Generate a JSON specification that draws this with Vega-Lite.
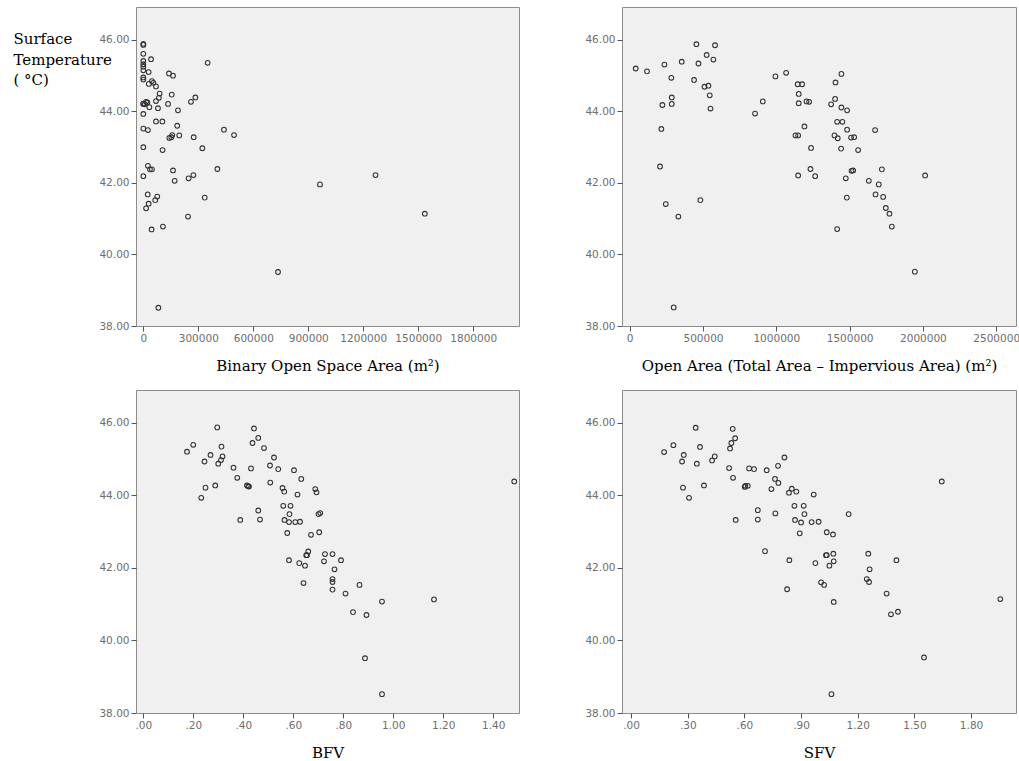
{
  "$schema": "https://vega.github.io/schema/vega-lite/v6.json",
  "padding": {"left": 12, "top": 6, "right": 2, "bottom": 2},
  "background": "white",
  "config": {
    "view": {"stroke": "#8c8c8c", "fill": "#f0f0f0", "strokeWidth": 1},
    "axis": {
      "grid": false, "domain": false, "tickColor": "#555555", "tickSize": 5,
      "labelFont": "DejaVu Sans", "labelFontSize": 10.5, "labelColor": "#6e6e6e",
      "labelFlush": false, "labelOverlap": false,
      "titleFont": "DejaVu Serif", "titleFontSize": 15, "titleFontWeight": "normal", "titleColor": "#000000"
    },
    "axisX": {"labelPadding": 2, "titleY": 44, "titleBaseline": "alphabetic"},
    "axisY": {"labelPadding": 2}
  },
  "datasets": {
    "p1": [
      {"x":0,"t":45.89},{"x":0,"t":45.86},{"x":0,"t":45.61},{"x":0,"t":45.41},{"x":0,"t":45.32},{"x":0,"t":45.25},{"x":0,"t":45.15},{"x":0,"t":44.95},{"x":0,"t":44.89},{"x":0,"t":44.22},{"x":0,"t":44.21},{"x":0,"t":43.93},{"x":0,"t":43.52},{"x":0,"t":43.0},{"x":0,"t":42.19},
      {"x":42000,"t":45.46},{"x":29000,"t":45.10},{"x":47000,"t":44.85},{"x":55000,"t":44.80},{"x":69000,"t":44.70},{"x":30000,"t":44.77},{"x":89000,"t":44.50},{"x":85000,"t":44.38},{"x":69000,"t":44.29},
      {"x":140000,"t":45.06},{"x":162000,"t":45.00},{"x":351000,"t":45.36},{"x":155000,"t":44.47},{"x":284000,"t":44.39},{"x":260000,"t":44.27},{"x":135000,"t":44.21},
      {"x":8000,"t":44.20},{"x":15000,"t":44.27},{"x":22000,"t":44.25},{"x":33000,"t":44.12},{"x":80000,"t":44.09},{"x":189000,"t":44.03},
      {"x":69000,"t":43.72},{"x":104000,"t":43.72},{"x":185000,"t":43.60},{"x":440000,"t":43.49},{"x":495000,"t":43.34},{"x":25000,"t":43.48},
      {"x":142000,"t":43.26},{"x":153000,"t":43.28},{"x":158000,"t":43.34},{"x":196000,"t":43.33},{"x":275000,"t":43.28},{"x":322000,"t":42.97},{"x":105000,"t":42.92},
      {"x":25000,"t":42.48},{"x":36000,"t":42.38},{"x":47000,"t":42.38},{"x":162000,"t":42.35},{"x":404000,"t":42.39},{"x":171000,"t":42.06},{"x":247000,"t":42.13},{"x":273000,"t":42.22},
      {"x":24000,"t":41.68},{"x":76000,"t":41.62},{"x":65000,"t":41.52},{"x":335000,"t":41.59},{"x":29000,"t":41.42},{"x":15000,"t":41.29},{"x":244000,"t":41.06},
      {"x":45000,"t":40.70},{"x":107000,"t":40.78},{"x":82000,"t":38.51},{"x":964000,"t":41.96},{"x":1267000,"t":42.22},{"x":1536000,"t":41.14},{"x":735000,"t":39.51}
    ],
    "p2": [
      {"x":41000,"t":45.20},{"x":118000,"t":45.12},{"x":237000,"t":45.31},{"x":355000,"t":45.39},{"x":284000,"t":44.94},{"x":287000,"t":44.39},{"x":287000,"t":44.21},{"x":223000,"t":44.18},{"x":216000,"t":43.51},{"x":207000,"t":42.46},{"x":246000,"t":41.41},{"x":332000,"t":41.06},{"x":300000,"t":38.52},
      {"x":455000,"t":45.88},{"x":469000,"t":45.34},{"x":439000,"t":44.88},{"x":525000,"t":45.58},{"x":571000,"t":45.45},{"x":582000,"t":45.85},{"x":510000,"t":44.69},{"x":537000,"t":44.72},{"x":546000,"t":44.45},{"x":551000,"t":44.08},{"x":482000,"t":41.52},
      {"x":855000,"t":43.94},{"x":908000,"t":44.28},{"x":994000,"t":44.98},{"x":1067000,"t":45.08},{"x":1146000,"t":44.76},{"x":1176000,"t":44.76},{"x":1153000,"t":44.49},{"x":1153000,"t":44.23},{"x":1206000,"t":44.28},{"x":1224000,"t":44.27},
      {"x":1192000,"t":43.58},{"x":1131000,"t":43.33},{"x":1149000,"t":43.33},{"x":1237000,"t":42.98},{"x":1233000,"t":42.39},{"x":1265000,"t":42.19},{"x":1149000,"t":42.21},
      {"x":1404000,"t":44.81},{"x":1444000,"t":45.05},{"x":1401000,"t":44.35},{"x":1374000,"t":44.20},{"x":1444000,"t":44.11},{"x":1483000,"t":44.03},{"x":1415000,"t":43.71},{"x":1451000,"t":43.71},{"x":1483000,"t":43.49},
      {"x":1397000,"t":43.33},{"x":1419000,"t":43.25},{"x":1510000,"t":43.27},{"x":1531000,"t":43.28},{"x":1442000,"t":42.96},{"x":1558000,"t":42.92},{"x":1513000,"t":42.34},{"x":1524000,"t":42.35},{"x":1474000,"t":42.13},{"x":1481000,"t":41.59},{"x":1415000,"t":40.71},
      {"x":1631000,"t":42.06},{"x":1674000,"t":43.48},{"x":1720000,"t":42.38},{"x":1699000,"t":41.96},{"x":1677000,"t":41.68},{"x":1729000,"t":41.61},{"x":1747000,"t":41.30},{"x":1772000,"t":41.14},{"x":1788000,"t":40.78},{"x":1945000,"t":39.52},{"x":2015000,"t":42.21}
    ],
    "p3": [
      {"x":0.175,"t":45.20},{"x":0.200,"t":45.39},{"x":0.269,"t":45.11},{"x":0.245,"t":44.93},{"x":0.296,"t":45.87},{"x":0.313,"t":45.34},{"x":0.317,"t":45.07},{"x":0.311,"t":44.97},{"x":0.300,"t":44.87},{"x":0.249,"t":44.21},{"x":0.288,"t":44.27},{"x":0.232,"t":43.93},
      {"x":0.361,"t":44.76},{"x":0.376,"t":44.48},{"x":0.388,"t":43.32},{"x":0.415,"t":44.27},{"x":0.420,"t":44.25},{"x":0.423,"t":44.24},{"x":0.431,"t":44.74},{"x":0.437,"t":45.44},{"x":0.443,"t":45.84},{"x":0.460,"t":45.58},{"x":0.483,"t":45.30},{"x":0.460,"t":43.58},{"x":0.467,"t":43.33},
      {"x":0.507,"t":44.82},{"x":0.508,"t":44.35},{"x":0.523,"t":45.04},{"x":0.540,"t":44.72},{"x":0.557,"t":44.20},{"x":0.564,"t":44.10},{"x":0.560,"t":43.71},{"x":0.589,"t":43.71},{"x":0.585,"t":43.48},{"x":0.565,"t":43.32},{"x":0.583,"t":43.26},{"x":0.608,"t":43.26},{"x":0.627,"t":43.27},{"x":0.576,"t":42.96},
      {"x":0.603,"t":44.69},{"x":0.632,"t":44.45},{"x":0.617,"t":44.02},{"x":0.688,"t":44.17},{"x":0.693,"t":44.08},{"x":0.701,"t":43.48},{"x":0.708,"t":43.51},{"x":0.704,"t":42.98},{"x":0.671,"t":42.91},
      {"x":0.583,"t":42.21},{"x":0.624,"t":42.13},{"x":0.647,"t":42.06},{"x":0.652,"t":42.35},{"x":0.655,"t":42.35},{"x":0.660,"t":42.45},{"x":0.641,"t":41.58},{"x":0.723,"t":42.18},{"x":0.727,"t":42.38},{"x":0.757,"t":42.38},{"x":0.765,"t":41.96},{"x":0.791,"t":42.21},
      {"x":0.757,"t":41.69},{"x":0.757,"t":41.61},{"x":0.757,"t":41.40},{"x":0.809,"t":41.29},{"x":0.865,"t":41.53},{"x":0.839,"t":40.78},{"x":0.893,"t":40.70},{"x":0.955,"t":41.07},{"x":0.887,"t":39.51},{"x":0.955,"t":38.52},{"x":1.163,"t":41.13},{"x":1.484,"t":44.38}
    ],
    "p4": [
      {"x":0.175,"t":45.19},{"x":0.224,"t":45.38},{"x":0.279,"t":45.11},{"x":0.270,"t":44.93},{"x":0.342,"t":45.86},{"x":0.365,"t":45.33},{"x":0.348,"t":44.87},{"x":0.275,"t":44.21},{"x":0.307,"t":43.93},{"x":0.386,"t":44.27},{"x":0.429,"t":44.96},{"x":0.443,"t":45.07},
      {"x":0.538,"t":45.83},{"x":0.551,"t":45.57},{"x":0.531,"t":45.44},{"x":0.524,"t":45.29},{"x":0.519,"t":44.75},{"x":0.540,"t":44.48},{"x":0.554,"t":43.32},{"x":0.605,"t":44.26},{"x":0.618,"t":44.26},{"x":0.602,"t":44.23},{"x":0.625,"t":44.74},{"x":0.651,"t":44.72},
      {"x":0.671,"t":43.59},{"x":0.671,"t":43.33},{"x":0.718,"t":44.69},{"x":0.762,"t":44.45},{"x":0.743,"t":44.17},{"x":0.780,"t":44.34},{"x":0.778,"t":44.81},{"x":0.812,"t":45.04},{"x":0.764,"t":43.50},{"x":0.709,"t":42.46},{"x":0.838,"t":42.21},{"x":0.826,"t":41.41},
      {"x":0.851,"t":44.18},{"x":0.836,"t":44.07},{"x":0.875,"t":44.10},{"x":0.865,"t":43.71},{"x":0.914,"t":43.71},{"x":0.918,"t":43.48},{"x":0.868,"t":43.32},{"x":0.900,"t":43.25},{"x":0.893,"t":42.95},{"x":0.967,"t":44.02},{"x":0.956,"t":43.26},{"x":0.993,"t":43.27},{"x":1.152,"t":43.48},
      {"x":1.036,"t":42.98},{"x":1.069,"t":42.92},{"x":1.032,"t":42.35},{"x":1.036,"t":42.35},{"x":1.071,"t":42.39},{"x":1.073,"t":42.18},{"x":1.050,"t":42.06},{"x":0.976,"t":42.13},{"x":1.006,"t":41.60},{"x":1.022,"t":41.53},{"x":1.073,"t":41.06},{"x":1.061,"t":38.52},
      {"x":1.256,"t":42.39},{"x":1.263,"t":41.96},{"x":1.248,"t":41.69},{"x":1.260,"t":41.61},{"x":1.405,"t":42.21},{"x":1.353,"t":41.29},{"x":1.376,"t":40.72},{"x":1.413,"t":40.79},{"x":1.551,"t":39.53},{"x":1.645,"t":44.38},{"x":1.955,"t":41.14}
    ]
  },
  "columns": 2,
  "bounds": "flush",
  "align": "each",
  "spacing": {"row": 64, "column": 103},
  "concat": [
    {
      "data": {"name": "p1"},
      "width": 383, "height": 319,
      "mark": {"type": "point", "shape": "circle", "filled": false, "size": 22, "strokeWidth": 1.1, "opacity": 1, "color": "#333333"},
      "encoding": {
        "x": {"field": "x", "type": "quantitative", "scale": {"domain": [-40000, 2050000], "nice": false, "zero": false},
              "axis": {"values": [0, 300000, 600000, 900000, 1200000, 1500000, 1800000], "format": "d", "title": "Binary Open Space Area (m²)"}},
        "y": {"field": "t", "type": "quantitative", "scale": {"domain": [38, 46.92], "nice": false, "zero": false},
              "axis": {"values": [38, 40, 42, 44, 46], "format": ".2f", "title": ["Surface", "Temperature", "( °C)"],
                       "titleAngle": 0, "titleAlign": "left", "titleBaseline": "alphabetic", "titleX": -123, "titleY": 36.5, "titleLineHeight": 20.5}}
      }
    },
    {
      "data": {"name": "p2"},
      "width": 394, "height": 319,
      "mark": {"type": "point", "shape": "circle", "filled": false, "size": 22, "strokeWidth": 1.1, "opacity": 1, "color": "#333333"},
      "encoding": {
        "x": {"field": "x", "type": "quantitative", "scale": {"domain": [-52500, 2635000], "nice": false, "zero": false},
              "axis": {"values": [0, 500000, 1000000, 1500000, 2000000, 2500000], "format": "d", "title": "Open Area (Total Area – Impervious Area) (m²)"}},
        "y": {"field": "t", "type": "quantitative", "scale": {"domain": [38, 46.92], "nice": false, "zero": false},
              "axis": {"values": [38, 40, 42, 44, 46], "format": ".2f", "title": null}}
      }
    },
    {
      "data": {"name": "p3"},
      "width": 383, "height": 323,
      "mark": {"type": "point", "shape": "circle", "filled": false, "size": 22, "strokeWidth": 1.1, "opacity": 1, "color": "#333333"},
      "encoding": {
        "x": {"field": "x", "type": "quantitative", "scale": {"domain": [-0.029, 1.503], "nice": false, "zero": false},
              "axis": {"values": [0, 0.2, 0.4, 0.6, 0.8, 1.0, 1.2, 1.4], "labelExpr": "datum.value < 1 ? substring(format(datum.value, '.2f'), 1) : format(datum.value, '.2f')", "title": "BFV"}},
        "y": {"field": "t", "type": "quantitative", "scale": {"domain": [38, 46.9], "nice": false, "zero": false},
              "axis": {"values": [38, 40, 42, 44, 46], "format": ".2f", "title": null}}
      }
    },
    {
      "data": {"name": "p4"},
      "width": 394, "height": 323,
      "mark": {"type": "point", "shape": "circle", "filled": false, "size": 22, "strokeWidth": 1.1, "opacity": 1, "color": "#333333"},
      "encoding": {
        "x": {"field": "x", "type": "quantitative", "scale": {"domain": [-0.048, 2.038], "nice": false, "zero": false},
              "axis": {"values": [0, 0.3, 0.6, 0.9, 1.2, 1.5, 1.8], "labelExpr": "datum.value < 1 ? substring(format(datum.value, '.2f'), 1) : format(datum.value, '.2f')", "title": "SFV"}},
        "y": {"field": "t", "type": "quantitative", "scale": {"domain": [38, 46.9], "nice": false, "zero": false},
              "axis": {"values": [38, 40, 42, 44, 46], "format": ".2f", "title": null}}
      }
    }
  ]
}
